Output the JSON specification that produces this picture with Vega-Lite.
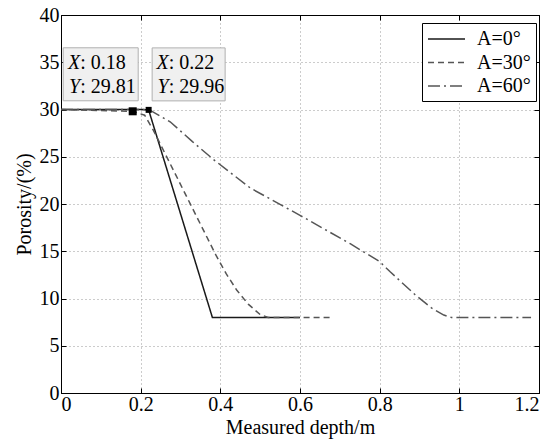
{
  "$schema": "https://vega.github.io/schema/vega-lite/v6.json",
  "width": 478,
  "height": 378,
  "autosize": {"type": "none"},
  "padding": {"left": 61, "top": 15, "right": 15, "bottom": 50},
  "background": "white",
  "config": {
    "font": "Liberation Serif, Times New Roman, serif",
    "text": {"font": "Liberation Serif, Times New Roman, serif"},
    "view": {"stroke": "black", "strokeWidth": 1},
    "legend": {"labelFont": "Liberation Serif, Times New Roman, serif"},
    "axis": {
      "labelFont": "Liberation Serif, Times New Roman, serif",
      "labelFontSize": 20,
      "labelColor": "black",
      "titleFont": "Liberation Serif, Times New Roman, serif",
      "titleFontSize": 20,
      "titleFontWeight": "normal",
      "titleColor": "black",
      "domainColor": "black",
      "domainWidth": 1,
      "tickColor": "black",
      "tickSize": -5,
      "gridColor": "#999999",
      "gridDash": [1, 3],
      "gridWidth": 1
    }
  },
  "datasets": {
    "curves": [
      {"series": "A=0°", "depth": 0, "porosity": 30},
      {"series": "A=0°", "depth": 0.2, "porosity": 30},
      {"series": "A=0°", "depth": 0.22, "porosity": 29.96},
      {"series": "A=0°", "depth": 0.38, "porosity": 8},
      {"series": "A=0°", "depth": 0.6, "porosity": 8},
      {"series": "A=30°", "depth": 0, "porosity": 30},
      {"series": "A=30°", "depth": 0.18, "porosity": 29.81},
      {"series": "A=30°", "depth": 0.21, "porosity": 29.4},
      {"series": "A=30°", "depth": 0.232, "porosity": 27.8},
      {"series": "A=30°", "depth": 0.39, "porosity": 14.5},
      {"series": "A=30°", "depth": 0.415, "porosity": 12.6},
      {"series": "A=30°", "depth": 0.441, "porosity": 10.9},
      {"series": "A=30°", "depth": 0.47, "porosity": 9.4},
      {"series": "A=30°", "depth": 0.5, "porosity": 8.3},
      {"series": "A=30°", "depth": 0.52, "porosity": 8},
      {"series": "A=30°", "depth": 0.68, "porosity": 8},
      {"series": "A=60°", "depth": 0, "porosity": 30},
      {"series": "A=60°", "depth": 0.22, "porosity": 30},
      {"series": "A=60°", "depth": 0.274, "porosity": 28.7},
      {"series": "A=60°", "depth": 0.33, "porosity": 26.6},
      {"series": "A=60°", "depth": 0.383, "porosity": 24.7},
      {"series": "A=60°", "depth": 0.475, "porosity": 21.7},
      {"series": "A=60°", "depth": 0.6, "porosity": 18.8},
      {"series": "A=60°", "depth": 0.726, "porosity": 15.8},
      {"series": "A=60°", "depth": 0.8, "porosity": 13.9},
      {"series": "A=60°", "depth": 0.827, "porosity": 12.8},
      {"series": "A=60°", "depth": 0.889, "porosity": 10.4},
      {"series": "A=60°", "depth": 0.93, "porosity": 9},
      {"series": "A=60°", "depth": 0.961, "porosity": 8.25},
      {"series": "A=60°", "depth": 0.98, "porosity": 8},
      {"series": "A=60°", "depth": 1.18, "porosity": 8}
    ],
    "tips": [
      {"tip": 1, "X": 0.18, "Y": 29.81, "vals": [": 0.18", ": 29.81"]},
      {"tip": 2, "X": 0.22, "Y": 29.96, "vals": [": 0.22", ": 29.96"]}
    ]
  },
  "layer": [
    {
      "data": {"name": "curves"},
      "mark": {"type": "line", "strokeWidth": 1.5, "clip": true},
      "encoding": {
        "x": {
          "field": "depth", "type": "quantitative",
          "scale": {"domain": [0, 1.2], "nice": false, "zero": false},
          "axis": {"orient": "bottom", "values": [0, 0.2, 0.4, 0.6, 0.8, 1, 1.2], "format": "~g", "grid": true, "title": "Measured depth/m", "labelPadding": 6, "titlePadding": 3}
        },
        "y": {
          "field": "porosity", "type": "quantitative",
          "scale": {"domain": [0, 40], "nice": false, "zero": false},
          "axis": {"orient": "left", "values": [0, 5, 10, 15, 20, 25, 30, 35, 40], "grid": true, "title": "Porosity/(%)", "labelPadding": 7, "titlePadding": 5}
        },
        "color": {
          "field": "series", "type": "nominal",
          "scale": {"domain": ["A=0°", "A=30°", "A=60°"], "range": ["#1a1a1a", "#555555", "#555555"]},
          "legend": {
            "title": null, "orient": "none", "legendX": 361, "legendY": 8,
            "symbolType": "M-1,0 L2.7,0", "symbolSize": 400, "symbolStrokeWidth": 1.5,
            "symbolFillColor": "transparent",
            "labelFont": "Liberation Serif, Times New Roman, serif", "labelFontSize": 20, "labelColor": "black",
            "labelLimit": 300, "labelOffset": 28, "rowPadding": 2.5,
            "padding": 5, "fillColor": "white", "strokeColor": "black"
          }
        },
        "strokeDash": {
          "field": "series", "type": "nominal",
          "scale": {"domain": ["A=0°", "A=30°", "A=60°"], "range": [[1, 0], [6, 4], [12, 4, 2, 4]]},
          "legend": {
            "title": null, "orient": "none", "legendX": 361, "legendY": 8,
            "symbolType": "M-1,0 L2.7,0", "symbolSize": 400, "symbolStrokeWidth": 1.5,
            "symbolFillColor": "transparent",
            "labelFont": "Liberation Serif, Times New Roman, serif", "labelFontSize": 20, "labelColor": "black",
            "labelLimit": 300, "labelOffset": 28, "rowPadding": 2.5,
            "padding": 5, "fillColor": "white", "strokeColor": "black"
          }
        }
      }
    },
    {
      "data": {"name": "curves"},
      "mark": {"type": "point", "opacity": 0},
      "encoding": {
        "x": {"field": "depth", "type": "quantitative", "axis": {"orient": "top", "values": [0, 0.2, 0.4, 0.6, 0.8, 1, 1.2], "labels": false, "grid": false, "title": null}},
        "y": {"field": "porosity", "type": "quantitative", "axis": {"orient": "right", "values": [0, 5, 10, 15, 20, 25, 30, 35, 40], "labels": false, "grid": false, "title": null}}
      }
    },
    {
      "data": {"name": "tips"},
      "transform": [{"filter": "datum.tip == 1"}],
      "layer": [
        {"mark": {"type": "rect", "width": 75, "height": 53, "xOffset": -32, "yOffset": -37, "fill": "#f0f0f0", "stroke": "#b0b0b0", "strokeWidth": 1}},
        {"mark": {"type": "text", "text": ["X", "Y"], "font": "Liberation Serif, Times New Roman, serif", "fontStyle": "italic", "fontSize": 20, "align": "right", "baseline": "alphabetic", "lineHeight": 24, "dx": -52.5, "dy": -42, "color": "black"}},
        {"mark": {"type": "text", "font": "Liberation Serif, Times New Roman, serif", "fontSize": 20, "align": "left", "baseline": "alphabetic", "lineHeight": 24, "dx": -52.5, "dy": -42, "color": "black"}, "encoding": {"text": {"field": "vals"}}},
        {"mark": {"type": "point", "shape": "square", "filled": true, "size": 64, "color": "black", "opacity": 1}}
      ],
      "encoding": {
        "x": {"field": "X", "type": "quantitative", "axis": null},
        "y": {"field": "Y", "type": "quantitative", "axis": null}
      }
    },
    {
      "data": {"name": "tips"},
      "transform": [{"filter": "datum.tip == 2"}],
      "layer": [
        {"mark": {"type": "rect", "width": 73, "height": 53, "xOffset": 40, "yOffset": -35.5, "fill": "#f0f0f0", "stroke": "#b0b0b0", "strokeWidth": 1}},
        {"mark": {"type": "text", "text": ["X", "Y"], "font": "Liberation Serif, Times New Roman, serif", "fontStyle": "italic", "fontSize": 20, "align": "right", "baseline": "alphabetic", "lineHeight": 24, "dx": 20, "dy": -41, "color": "black"}},
        {"mark": {"type": "text", "font": "Liberation Serif, Times New Roman, serif", "fontSize": 20, "align": "left", "baseline": "alphabetic", "lineHeight": 24, "dx": 20, "dy": -41, "color": "black"}, "encoding": {"text": {"field": "vals"}}},
        {"mark": {"type": "point", "shape": "square", "filled": true, "size": 36, "color": "black", "opacity": 1}}
      ],
      "encoding": {
        "x": {"field": "X", "type": "quantitative", "axis": null},
        "y": {"field": "Y", "type": "quantitative", "axis": null}
      }
    }
  ],
  "resolve": {"axis": {"x": "independent", "y": "independent"}}
}
